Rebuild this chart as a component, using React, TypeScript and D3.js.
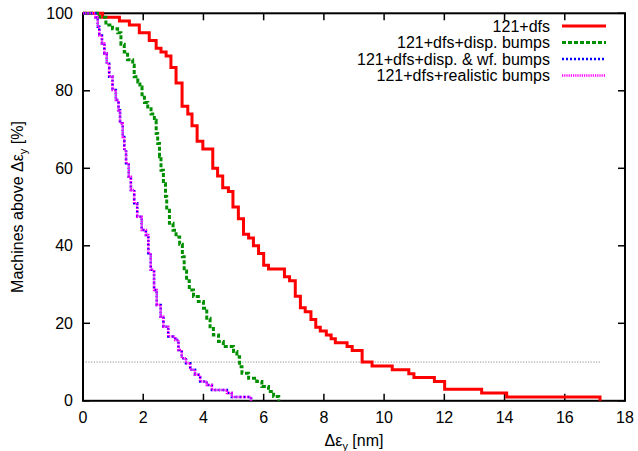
import React from "react";
import * as d3 from "d3";

// ---- data (x = Δε_y in nm, y = machines above in %) ----
const redSeries: [number, number][] = [
  [0, 100], [0.65, 99], [1.21, 98], [1.54, 97], [1.87, 95], [2.2, 93], [2.43, 91], [2.59, 90],
  [2.76, 89], [2.92, 86], [3.09, 82], [3.29, 76], [3.48, 74], [3.62, 71], [3.79, 67], [3.98, 65],
  [4.31, 60], [4.47, 58], [4.64, 55], [4.83, 54], [4.98, 50], [5.16, 47], [5.33, 43], [5.5, 42],
  [5.66, 40], [5.83, 38], [6.0, 35], [6.16, 34], [6.69, 32], [6.86, 31], [7.05, 27], [7.22, 24],
  [7.38, 23], [7.57, 21], [7.73, 19], [7.88, 18], [8.08, 17], [8.24, 16], [8.38, 15], [8.77, 14],
  [8.94, 13], [9.27, 10], [9.6, 9], [10.27, 8], [10.82, 7], [10.99, 6], [11.67, 5], [12.01, 3],
  [13.24, 2], [14.07, 1], [17.17, 0],
];

const greenSeries: [number, number][] = [
  [0, 100], [0.43, 100], [0.54, 99], [0.76, 97], [0.98, 96], [1.15, 95], [1.26, 92], [1.37, 90],
  [1.48, 88], [1.65, 86.6], [1.7, 83.6], [1.82, 82.3], [1.89, 81], [1.96, 79], [2.04, 77],
  [2.15, 75.4], [2.26, 74], [2.37, 72.4], [2.43, 69], [2.48, 66.4], [2.54, 63], [2.59, 59.5],
  [2.67, 56], [2.74, 52.7], [2.78, 49.2], [2.87, 45.8], [2.99, 44], [3.09, 42.3], [3.21, 40.4],
  [3.3, 37.2], [3.36, 33.5], [3.44, 31], [3.53, 28.6], [3.67, 26.9], [3.83, 25.6], [4.0, 23.9],
  [4.11, 21.3], [4.22, 19.1], [4.33, 17], [4.5, 15.3], [4.66, 14], [5.0, 12.7], [5.11, 11.4],
  [5.2, 8.8], [5.28, 7.1], [5.5, 5.8], [5.77, 5], [5.94, 3.7], [6.16, 2.4], [6.33, 1.1], [6.5, 0],
];

const blueSeries: [number, number][] = [
  [0, 100], [0.34, 100], [0.41, 99], [0.49, 96.5], [0.54, 94.3], [0.63, 92.2], [0.71, 89.6],
  [0.79, 87], [0.87, 83.6], [0.98, 80.2], [1.09, 77.6], [1.18, 75], [1.23, 71.6], [1.32, 68.1],
  [1.37, 64.7], [1.43, 61.3], [1.52, 57.8], [1.59, 54.4], [1.7, 51], [1.8, 47.5], [1.95, 44.1],
  [2.09, 42.8], [2.17, 38.1], [2.25, 33.8], [2.36, 28.6], [2.45, 24.7], [2.58, 21.7], [2.67, 19.1],
  [2.83, 16.6], [3.06, 15.7], [3.17, 13.1], [3.28, 11], [3.42, 9.7], [3.56, 8], [3.72, 6.7],
  [3.89, 5], [4.11, 4.1], [4.28, 2.8], [4.78, 2], [4.94, 1], [5.58, 0],
];

const magentaSeries: [number, number][] = [
  [0, 100], [0.34, 100], [0.41, 99], [0.49, 96.5], [0.54, 94.3], [0.63, 92.2], [0.71, 89.6],
  [0.79, 87], [0.87, 83.6], [0.98, 80.2], [1.09, 77.6], [1.18, 75], [1.23, 71.6], [1.32, 68.1],
  [1.37, 64.7], [1.43, 61.3], [1.52, 57.8], [1.59, 54.4], [1.7, 51], [1.8, 47.5], [1.95, 44.1],
  [2.09, 42.8], [2.17, 38.1], [2.25, 33.8], [2.36, 28.6], [2.45, 24.7], [2.58, 21.7], [2.67, 19.1],
  [2.83, 16.6], [3.06, 15.7], [3.17, 13.1], [3.28, 11], [3.42, 9.7], [3.56, 8], [3.72, 6.7],
  [3.89, 5], [4.11, 4.1], [4.28, 2.8], [4.78, 2], [4.94, 1], [5.58, 0],
];

const seriesNames = [
  "121+dfs",
  "121+dfs+disp. bumps",
  "121+dfs+disp. & wf. bumps",
  "121+dfs+realistic bumps",
];

const xTicks = [0, 2, 4, 6, 8, 10, 12, 14, 16, 18];
const yTicks = [0, 20, 40, 60, 80, 100];
const thresholdValue = 10;
const thresholdRange = [0, 17.17];

// ---- layout ----
const W = 638;
const H = 451;
const L = 83;
const R = 625;
const T = 13.3;
const B = 400.8;
const FONT = "'Liberation Sans', Arial, Helvetica, sans-serif";
const FS = 16;

const styles = [
  { color: "#ff0000", width: 3, dash: undefined as string | undefined },
  { color: "#008f00", width: 3, dash: "4,2" },
  { color: "#0000ff", width: 2.5, dash: "2,2" },
  { color: "#ff00ff", width: 2.5, dash: "1.2,1" },
];

export default function App() {
  const x = d3.scaleLinear().domain([0, 18]).range([L, R]);
  const y = d3.scaleLinear().domain([0, 100]).range([B, T]);
  const line = d3
    .line<[number, number]>()
    .x((d) => x(d[0]))
    .y((d) => y(d[1]))
    .curve(d3.curveStepAfter);

  const all = [redSeries, greenSeries, blueSeries, magentaSeries];
  const tickLen = 7;
  const legendRows = [26, 42.5, 59, 75.5];

  return (
    <svg
      width={W}
      height={H}
      style={{ position: "absolute", left: 0, top: 0, background: "#fff" }}
      fontFamily={FONT}
    >
      <rect x={0} y={0} width={W} height={H} fill="#fff" />
      {/* threshold line */}
      <line
        x1={x(thresholdRange[0])}
        x2={x(thresholdRange[1])}
        y1={y(thresholdValue)}
        y2={y(thresholdValue)}
        stroke="#909090"
        strokeWidth={1}
        strokeDasharray="1.2,1.5"
      />
      {/* ticks */}
      {xTicks.map((t) => (
        <g key={"xt" + t}>
          <line x1={x(t)} x2={x(t)} y1={B} y2={B - tickLen} stroke="#000" strokeWidth={1.5} />
          <line x1={x(t)} x2={x(t)} y1={T} y2={T + tickLen} stroke="#000" strokeWidth={1.5} />
          <text x={x(t)} y={423} textAnchor="middle" fontSize={FS} fill="#000">
            {t}
          </text>
        </g>
      ))}
      {yTicks.map((t) => (
        <g key={"yt" + t}>
          <line x1={L} x2={L + tickLen} y1={y(t)} y2={y(t)} stroke="#000" strokeWidth={1.5} />
          <line x1={R} x2={R - tickLen} y1={y(t)} y2={y(t)} stroke="#000" strokeWidth={1.5} />
          <text x={73} y={y(t) + 5.5} textAnchor="end" fontSize={FS} fill="#000">
            {t}
          </text>
        </g>
      ))}
      {/* frame */}
      <rect x={L} y={T} width={R - L} height={B - T} fill="none" stroke="#000" strokeWidth={2} />
      {/* series */}
      {all.map((s, i) => (
        <path
          key={"s" + i}
          d={line(s) || ""}
          fill="none"
          stroke={styles[i].color}
          strokeWidth={styles[i].width}
          strokeDasharray={styles[i].dash}
        />
      ))}
      {/* legend */}
      {seriesNames.map((n, i) => (
        <g key={"lg" + i}>
          <text x={550} y={legendRows[i] + 5.5} textAnchor="end" fontSize={FS} fill="#000">
            {n}
          </text>
          <line
            x1={562}
            x2={606}
            y1={legendRows[i]}
            y2={legendRows[i]}
            stroke={styles[i].color}
            strokeWidth={styles[i].width}
            strokeDasharray={styles[i].dash}
          />
        </g>
      ))}
      {/* axis labels */}
      <text x={354} y={446} textAnchor="middle" fontSize={FS} fill="#000">
        Δε
        <tspan fontSize={11} dy={4}>y</tspan>
        <tspan dy={-4}> [nm]</tspan>
      </text>
      <text
        transform={`translate(23,207) rotate(-90)`}
        textAnchor="middle"
        fontSize={FS}
        fill="#000"
      >
        Machines above Δε
        <tspan fontSize={11} dy={4}>y</tspan>
        <tspan dy={-4}> [%]</tspan>
      </text>
    </svg>
  );
}
